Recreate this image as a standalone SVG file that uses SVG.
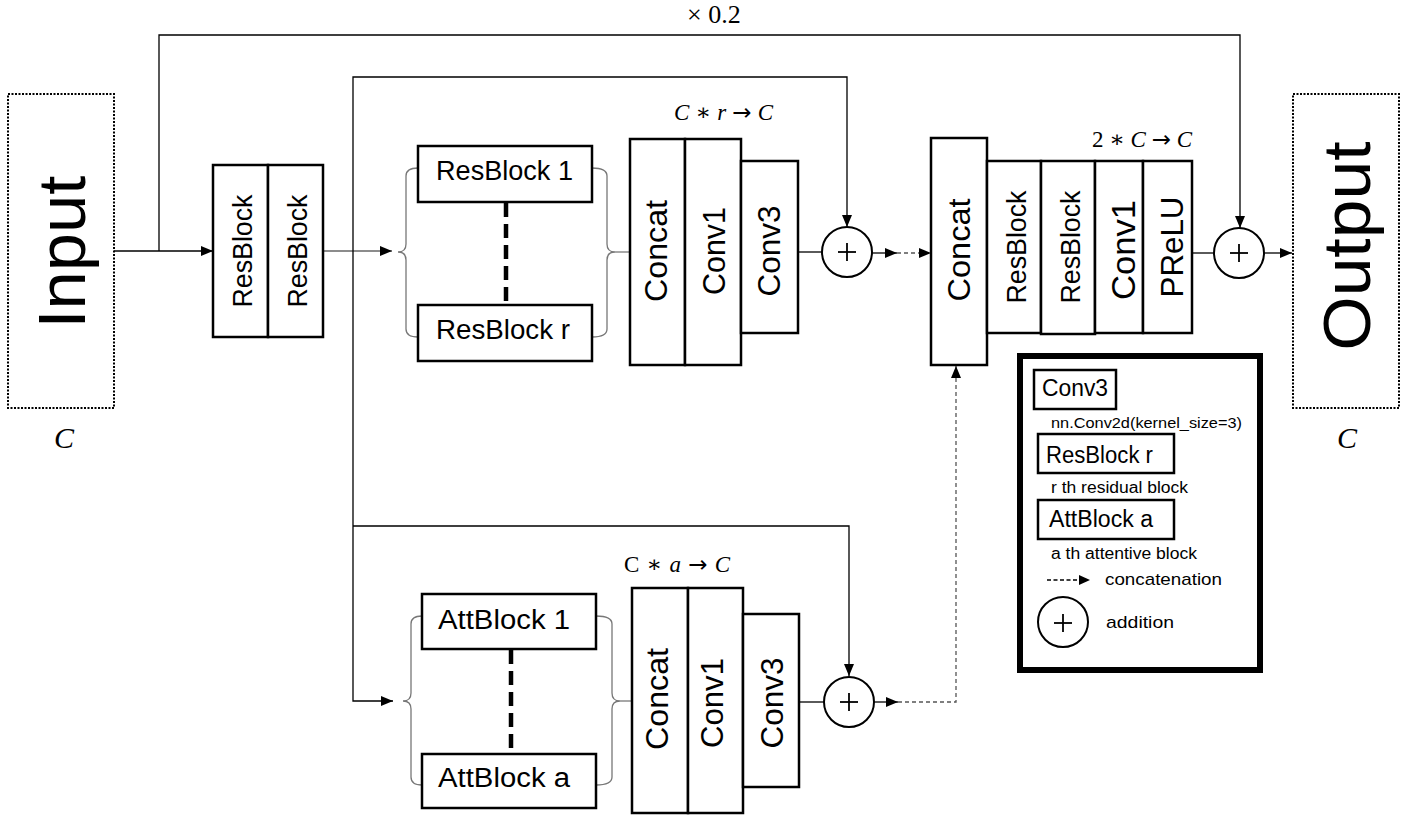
<svg xmlns="http://www.w3.org/2000/svg" width="1426" height="815" viewBox="0 0 1426 815">
<style>
.box{fill:#fff;stroke:#000;stroke-width:2.5}
.dot{fill:#fff;stroke:#000;stroke-width:2;stroke-dasharray:2 1.5}
.ln{fill:none;stroke:#000;stroke-width:1.3}
.gl{fill:none;stroke:#666;stroke-width:1.3}
.br{fill:none;stroke:#777;stroke-width:1.3}
.dl{fill:none;stroke:#555;stroke-width:1.3;stroke-dasharray:4 3}
.thk{fill:none;stroke:#000;stroke-width:4.5;stroke-dasharray:14 7}
.cir{fill:#fff;stroke:#000;stroke-width:2}
.pl{stroke:#000;stroke-width:1.8}
.t{font-family:"Liberation Sans",Arial,sans-serif;fill:#000}
.m{font-family:"Liberation Serif","DejaVu Serif",serif;fill:#000}
.i{font-style:italic}
.ar{font-family:"DejaVu Sans",sans-serif;font-style:normal}
</style>
<defs>
<marker id="ah" markerWidth="12" markerHeight="10" refX="12" refY="5" orient="auto" markerUnits="userSpaceOnUse"><path d="M0,0 L12,5 L0,10 Z" fill="#000"/></marker>
</defs>

<g id="connectors">
<line class="ln" x1="114" y1="251" x2="213" y2="251" marker-end="url(#ah)"/>
<path class="ln" d="M159,251 V35 H1240 V228" marker-end="url(#ah)"/>
<line class="gl" x1="323" y1="251" x2="392" y2="251" marker-end="url(#ah)"/>
<path class="ln" d="M353,251 V77 H847 V227" marker-end="url(#ah)"/>
<path class="ln" d="M353,251 V701 H393" marker-end="url(#ah)"/>
<path class="ln" d="M353,526 H849 V676" marker-end="url(#ah)"/>
<path class="br" d="M418,168 Q406,168 406,176 L406,244 Q406,252 398,252 Q406,252 406,260 L406,329 Q406,337 418,337"/>
<path class="br" d="M592,168 Q607,168 607,176 L607,244 Q607,252 615,252 Q607,252 607,260 L607,329 Q607,337 592,337"/>
<line class="br" x1="615" y1="252" x2="630" y2="252"/>
<path class="br" d="M422,616 Q411,616 411,624 L411,693 Q411,701 403,701 Q411,701 411,709 L411,777 Q411,785 422,785"/>
<path class="br" d="M596,616 Q612,616 612,624 L612,693 Q612,701 620,701 Q612,701 612,709 L612,777 Q612,785 596,785"/>
<line class="br" x1="620" y1="701" x2="632" y2="701"/>
<line class="thk" x1="506" y1="203" x2="506" y2="305"/>
<line class="thk" x1="511" y1="650" x2="511" y2="754"/>
<line class="ln" x1="798" y1="252" x2="822" y2="252"/>
<line class="ln" x1="799" y1="702" x2="824" y2="702"/>
<line class="ln" x1="872" y1="253" x2="897" y2="253" marker-end="url(#ah)"/>
<line class="dl" x1="897" y1="253" x2="931" y2="253" marker-end="url(#ah)"/>
<line class="ln" x1="874" y1="702" x2="898" y2="702" marker-end="url(#ah)"/>
<path class="dl" d="M898,702 H956 V366" marker-end="url(#ah)"/>
<line class="ln" x1="1192" y1="253" x2="1214" y2="253"/>
<line class="ln" x1="1264" y1="253" x2="1292" y2="253" marker-end="url(#ah)"/>
</g>

<g id="input">
<rect class="dot" x="8" y="94" width="106" height="314"/>
<text class="t" font-size="67" text-anchor="middle" transform="translate(85,252) rotate(-90)" textLength="153" lengthAdjust="spacingAndGlyphs">Input</text>
<text class="m i" font-size="30" x="54" y="448">C</text>
</g>

<g id="output">
<rect class="dot" x="1293" y="94" width="106" height="314"/>
<text class="t" font-size="67" text-anchor="middle" transform="translate(1370,246) rotate(-90)" textLength="209" lengthAdjust="spacingAndGlyphs">Output</text>
<text class="m i" font-size="30" x="1337" y="448">C</text>
</g>

<g id="scale-label">
<text class="m" font-size="26" x="687" y="23">× 0.2</text>
</g>

<g id="resblock-pair">
<rect class="box" x="213" y="165" width="55" height="172"/>
<rect class="box" x="268" y="165" width="55" height="172"/>
<text class="t" font-size="27" text-anchor="middle" transform="translate(252,251) rotate(-90)" textLength="113" lengthAdjust="spacingAndGlyphs">ResBlock</text>
<text class="t" font-size="27" text-anchor="middle" transform="translate(307,251) rotate(-90)" textLength="113" lengthAdjust="spacingAndGlyphs">ResBlock</text>
</g>

<g id="resblock-1">
<rect class="box" x="418" y="146" width="174" height="56"/>
<text class="t" font-size="27" x="436" y="180" textLength="137" lengthAdjust="spacingAndGlyphs">ResBlock 1</text>
</g>
<g id="resblock-r">
<rect class="box" x="418" y="305" width="174" height="56"/>
<text class="t" font-size="27" x="436" y="339" textLength="134" lengthAdjust="spacingAndGlyphs">ResBlock r</text>
</g>

<g id="res-fusion">
<rect class="box" x="630" y="139" width="55" height="226"/>
<rect class="box" x="685" y="139" width="56" height="226"/>
<rect class="box" x="741" y="161" width="57" height="172"/>
<text class="t" font-size="32" text-anchor="middle" transform="translate(667,251) rotate(-90)" textLength="102" lengthAdjust="spacingAndGlyphs">Concat</text>
<text class="t" font-size="31" text-anchor="middle" transform="translate(725,251) rotate(-90)" textLength="88" lengthAdjust="spacingAndGlyphs">Conv1</text>
<text class="t" font-size="31" text-anchor="middle" transform="translate(780,251) rotate(-90)" textLength="91" lengthAdjust="spacingAndGlyphs">Conv3</text>
<text class="m" font-size="23" x="674" y="120" textLength="99"><tspan class="i">C</tspan> ∗ <tspan class="i">r</tspan> <tspan class="ar">→</tspan> <tspan class="i">C</tspan></text>
</g>

<g id="add-res">
<circle class="cir" cx="847" cy="252" r="25"/>
<line class="pl" x1="838" y1="252" x2="856" y2="252"/><line class="pl" x1="847" y1="243" x2="847" y2="261"/>
</g>

<g id="attblock-1">
<rect class="box" x="422" y="594" width="174" height="55"/>
<text class="t" font-size="27" x="438" y="629" textLength="132" lengthAdjust="spacingAndGlyphs">AttBlock 1</text>
</g>
<g id="attblock-a">
<rect class="box" x="422" y="754" width="174" height="54"/>
<text class="t" font-size="27" x="438" y="787" textLength="132" lengthAdjust="spacingAndGlyphs">AttBlock a</text>
</g>

<g id="att-fusion">
<rect class="box" x="632" y="588" width="56" height="225"/>
<rect class="box" x="688" y="588" width="55" height="225"/>
<rect class="box" x="743" y="614" width="56" height="173"/>
<text class="t" font-size="32" text-anchor="middle" transform="translate(668,699) rotate(-90)" textLength="102" lengthAdjust="spacingAndGlyphs">Concat</text>
<text class="t" font-size="31" text-anchor="middle" transform="translate(723,703) rotate(-90)" textLength="90" lengthAdjust="spacingAndGlyphs">Conv1</text>
<text class="t" font-size="31" text-anchor="middle" transform="translate(783,703) rotate(-90)" textLength="91" lengthAdjust="spacingAndGlyphs">Conv3</text>
<text class="m" font-size="23" x="624" y="572" textLength="106">C ∗ <tspan class="i">a</tspan> <tspan class="ar">→</tspan> <tspan class="i">C</tspan></text>
</g>

<g id="add-att">
<circle class="cir" cx="849" cy="702" r="25"/>
<line class="pl" x1="840" y1="702" x2="858" y2="702"/><line class="pl" x1="849" y1="693" x2="849" y2="711"/>
</g>

<g id="final-concat">
<rect class="box" x="931" y="138" width="56" height="227"/>
<text class="t" font-size="32" text-anchor="middle" transform="translate(970,250) rotate(-90)" textLength="103" lengthAdjust="spacingAndGlyphs">Concat</text>
</g>

<g id="tail">
<rect class="box" x="987" y="161" width="54" height="172"/>
<rect class="box" x="1041" y="161" width="54" height="173"/>
<rect class="box" x="1095" y="161" width="48" height="172"/>
<rect class="box" x="1143" y="161" width="49" height="172"/>
<text class="t" font-size="27" text-anchor="middle" transform="translate(1026,247) rotate(-90)" textLength="113" lengthAdjust="spacingAndGlyphs">ResBlock</text>
<text class="t" font-size="27" text-anchor="middle" transform="translate(1080,247) rotate(-90)" textLength="113" lengthAdjust="spacingAndGlyphs">ResBlock</text>
<text class="t" font-size="34" text-anchor="middle" transform="translate(1135,250) rotate(-90)" textLength="100" lengthAdjust="spacingAndGlyphs">Conv1</text>
<text class="t" font-size="31" text-anchor="middle" transform="translate(1183,247) rotate(-90)" textLength="101" lengthAdjust="spacingAndGlyphs">PReLU</text>
<text class="m" font-size="23" x="1092" y="147" textLength="100">2 ∗ <tspan class="i">C</tspan> <tspan class="ar">→</tspan> <tspan class="i">C</tspan></text>
</g>

<g id="add-out">
<circle class="cir" cx="1239" cy="253" r="25"/>
<line class="pl" x1="1230" y1="253" x2="1248" y2="253"/><line class="pl" x1="1239" y1="244" x2="1239" y2="262"/>
</g>

<g id="legend">
<rect x="1020" y="356" width="240" height="314" fill="#fff" stroke="#000" stroke-width="6"/>
<rect class="box" x="1034" y="370" width="82" height="39" stroke-width="2"/>
<text class="t" font-size="23" x="1042" y="396" textLength="66" lengthAdjust="spacingAndGlyphs">Conv3</text>
<text class="t" font-size="15" x="1051" y="428" textLength="191" lengthAdjust="spacingAndGlyphs">nn.Conv2d(kernel_size=3)</text>
<rect class="box" x="1038" y="434" width="136" height="39" stroke-width="2"/>
<text class="t" font-size="23" x="1046" y="463" textLength="107" lengthAdjust="spacingAndGlyphs">ResBlock r</text>
<text class="t" font-size="16" x="1051" y="493" textLength="137" lengthAdjust="spacingAndGlyphs">r th residual block</text>
<rect class="box" x="1038" y="500" width="136" height="39" stroke-width="2"/>
<text class="t" font-size="23" x="1049" y="527" textLength="104" lengthAdjust="spacingAndGlyphs">AttBlock a</text>
<text class="t" font-size="16" x="1051" y="559" textLength="146" lengthAdjust="spacingAndGlyphs">a th attentive block</text>
<line x1="1047" y1="580" x2="1080" y2="580" stroke="#000" stroke-width="1.5" stroke-dasharray="4 2.5"/>
<path d="M1079,575 L1090,580 L1079,585 Z" fill="#000"/>
<text class="t" font-size="17" x="1105" y="585" textLength="117" lengthAdjust="spacingAndGlyphs">concatenation</text>
<circle class="cir" cx="1063" cy="622" r="25"/>
<line class="pl" x1="1054" y1="623" x2="1072" y2="623"/><line class="pl" x1="1063" y1="614" x2="1063" y2="632"/>
<text class="t" font-size="17" x="1106" y="628" textLength="68" lengthAdjust="spacingAndGlyphs">addition</text>
</g>
</svg>
